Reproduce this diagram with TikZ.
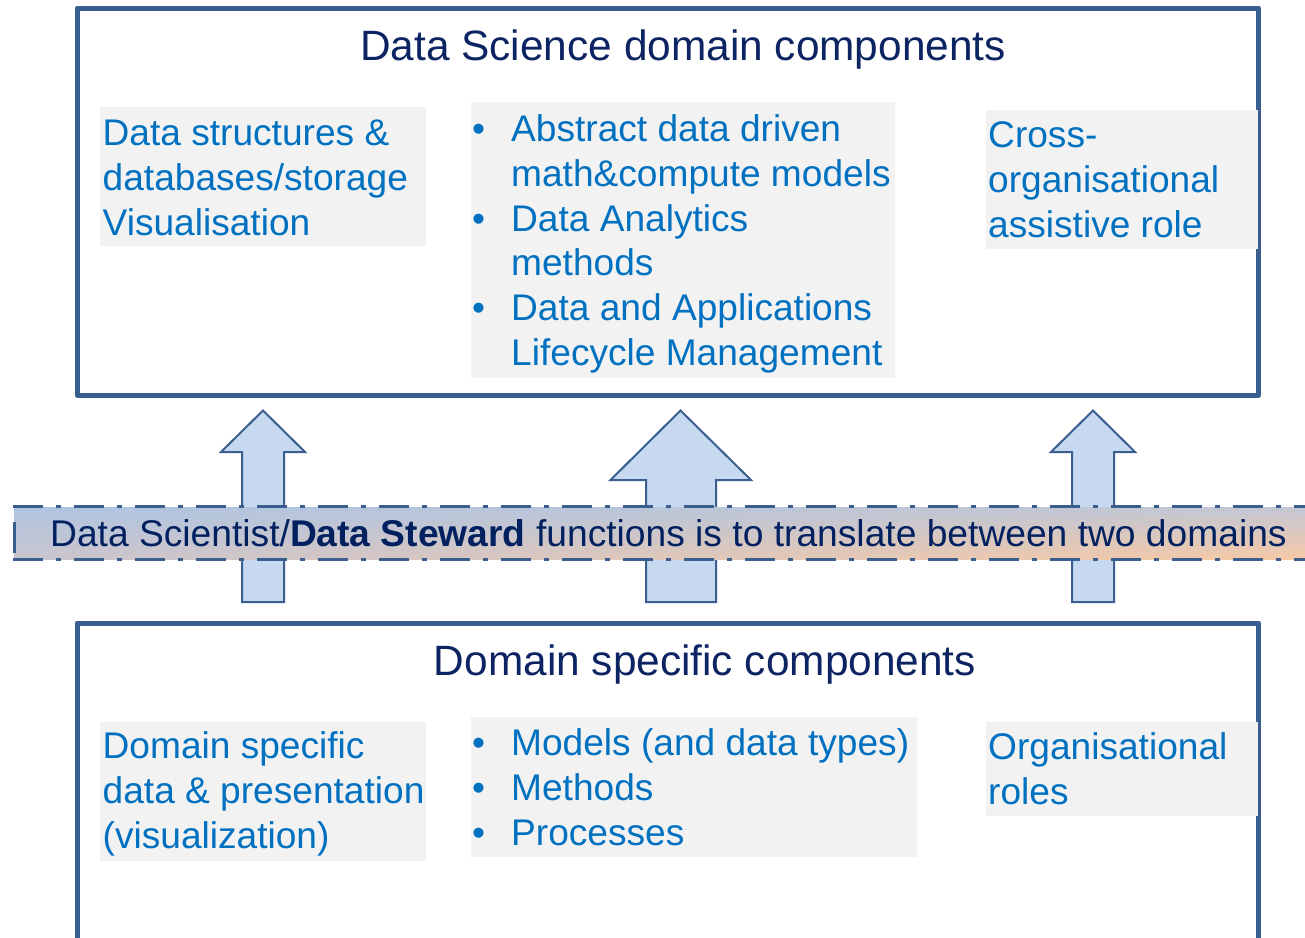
\documentclass[tikz,border=0pt]{standalone}
\usepackage{fontspec}
\setmainfont{Liberation Sans}
\usetikzlibrary{shadings}
\definecolor{boxblue}{HTML}{3A5F8F}
\definecolor{grayfill}{HTML}{F2F2F2}
\definecolor{txtblue}{HTML}{0070C0}
\definecolor{navy}{HTML}{0D2463}
\definecolor{bandnavy}{HTML}{002060}
\definecolor{arrowfill}{HTML}{C6D9F1}
\definecolor{bandUL}{HTML}{AFC4E1}
\definecolor{bandUR}{HTML}{C3C7D3}
\definecolor{bandLL}{HTML}{C9C5CE}
\definecolor{bandLR}{HTML}{F6C9A6}
\begin{document}
\begin{tikzpicture}[x=1pt,y=-1pt,
  frame/.style={draw=boxblue,line width=5pt,line join=round},
  graybox/.style={fill=grayfill},
  blockarrow/.style={draw=boxblue,fill=arrowfill,line width=2pt,line join=miter},
  bandline/.style={draw=boxblue,line width=3.2pt,dash pattern=on 30pt off 13pt on 5pt off 13pt},
  titletxt/.style={text=navy,font=\fontsize{42.4}{50}\selectfont,inner sep=0pt,anchor=base},
  bl/.style={text=txtblue,font=\fontsize{37.1}{45}\selectfont,inner sep=0pt,anchor=base west},
  bandtxt/.style={text=bandnavy,font=\fontsize{37.2}{45}\selectfont,inner sep=0pt,anchor=base west}]
\clip (0,0) rectangle (1305,937);
\fill[white] (0,0) rectangle (1305,937);

% block arrows
\draw[blockarrow] (242,602) -- (242,452) -- (221,452) -- (263,410.5) -- (305,452) -- (284,452) -- (284,602) -- cycle;
\draw[blockarrow] (646,602) -- (646,480) -- (610.5,480) -- (680.5,410.5) -- (751,480) -- (716,480) -- (716,602) -- cycle;
\draw[blockarrow] (1072,602) -- (1072,452) -- (1051,452) -- (1093,410.5) -- (1135,452) -- (1114,452) -- (1114,602) -- cycle;

% frames
\draw[frame] (77,8) rectangle (1258.5,395);
\draw[frame] (77,960) -- (77,623) -- (1258.5,623) -- (1258.5,960);

% gray boxes (top)
\fill[graybox] (100,107) rectangle (426,246);
\fill[graybox] (471,102) rectangle (895,378);
\fill[graybox] (986,110) rectangle (1258,249);
% gray boxes (bottom)
\fill[graybox] (100,722) rectangle (426,861);
\fill[graybox] (471,717) rectangle (917,857);
\fill[graybox] (986,722) rectangle (1258,816);

% titles
\node[titletxt] (t1) at (683,60) {Data Science domain components};
\node[titletxt] (t2) at (705,675) {Domain specific components};

% top left
\node[bl] (a1) at (102.5,145.5) {Data structures \&};
\node[bl] (a2) at (102.5,190.5) {databases/storage};
\node[bl] (a3) at (102.5,235.5) {Visualisation};
% top middle
\node[bl] (b1d) at (472,141.5) {•};
\node[bl] (b1) at (511,141.5) {Abstract data driven};
\node[bl] (b2) at (511,186.3) {math\&compute models};
\node[bl] (b3d) at (472,231.1) {•};
\node[bl] (b3) at (511,231.1) {Data Analytics};
\node[bl] (b4) at (511,275.9) {methods};
\node[bl] (b5d) at (472,320.7) {•};
\node[bl] (b5) at (511,320.7) {Data and Applications};
\node[bl] (b6) at (511,365.5) {Lifecycle Management};
% top right
\node[bl] (c1) at (988,147.5) {Cross-};
\node[bl] (c2) at (988,192.5) {organisational};
\node[bl] (c3) at (988,237.5) {assistive role};

% bottom left
\node[bl] (d1) at (102.5,758.5) {Domain specific};
\node[bl] (d2) at (102.5,803.5) {data \& presentation};
\node[bl] (d3) at (102.5,848.5) {(visualization)};
% bottom middle
\node[bl] (e1d) at (472,755.5) {•};
\node[bl] (e1) at (511,755.5) {Models (and data types)};
\node[bl] (e2d) at (472,800.5) {•};
\node[bl] (e2) at (511,800.5) {Methods};
\node[bl] (e3d) at (472,845.5) {•};
\node[bl] (e3) at (511,845.5) {Processes};
% bottom right
\node[bl] (f1) at (988,759.5) {Organisational};
\node[bl] (f2) at (988,804.5) {roles};

% band
\shade[upper left=bandUL,upper right=bandUR,lower left=bandLL,lower right=bandLR] (14,507) rectangle (1310,559);
\draw[bandline] (13,506.5) -- (1310,506.5);
\draw[bandline] (13,559.5) -- (1310,559.5);
\draw[draw=boxblue,line width=3.2pt] (14.5,522) -- (14.5,553);
\node[bandtxt] (band) at (50,546.5) {Data Scientist/\textbf{Data Steward} functions is to translate between two domains};
\end{tikzpicture}
\end{document}
